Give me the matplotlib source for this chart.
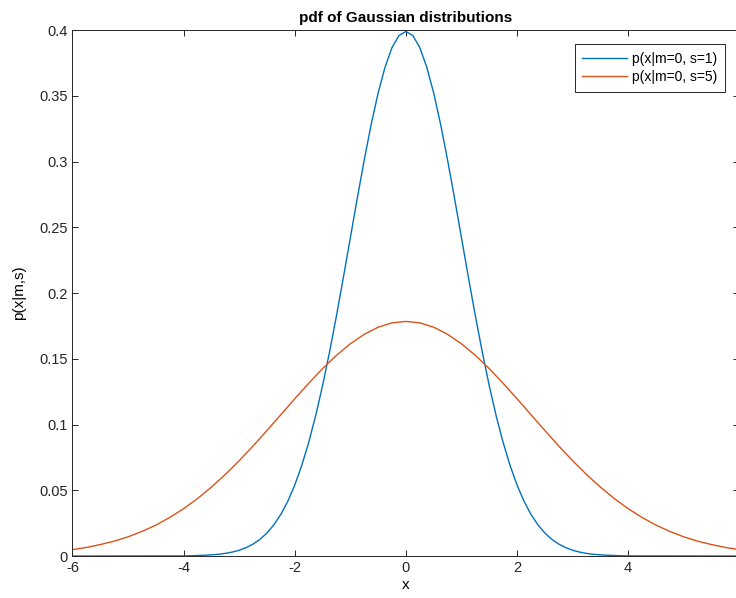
import matplotlib
matplotlib.use("Agg")
import matplotlib.pyplot as plt

# values (right half, the curves are symmetric about 0)
# s=1 curve: x step 0.125 from 0 to 4, then 0 out to 6
half_x1 = [i * 0.125 for i in range(0, 33)] + [6.0]
half_s1 = [0.3989, 0.3958, 0.3867, 0.3718, 0.3521, 0.3282, 0.3011, 0.2721,
           0.2420, 0.2119, 0.1826, 0.1550, 0.1295, 0.1065, 0.0863, 0.0688,
           0.0540, 0.0417, 0.0317, 0.0238, 0.0175, 0.0127, 0.0091, 0.0064,
           0.0044, 0.0030, 0.0020, 0.0013, 0.0009, 0.0006, 0.0004, 0.0002,
           0.0001, 0.0]
# s=5 curve: x step 0.25 from 0 to 6
half_x5 = [i * 0.25 for i in range(0, 25)]
half_s5 = [0.1784, 0.1773, 0.1740, 0.1686, 0.1614, 0.1526, 0.1425, 0.1313,
           0.1196, 0.1075, 0.0955, 0.0837, 0.0725, 0.0620, 0.0524, 0.0437,
           0.0360, 0.0293, 0.0235, 0.0187, 0.0146, 0.0113, 0.0087, 0.0065,
           0.0049]

x1 = [-v for v in half_x1[:0:-1]] + half_x1
pdf_s1 = half_s1[:0:-1] + half_s1
x5 = [-v for v in half_x5[:0:-1]] + half_x5
pdf_s5 = half_s5[:0:-1] + half_s5

labels = ["p(x|m=0, s=1)", "p(x|m=0, s=5)"]
x_ticks = [-6, -4, -2, 0, 2, 4, 6]
y_ticks = [0, 0.05, 0.1, 0.15, 0.2, 0.25, 0.3, 0.35, 0.4]

plt.rcParams["font.family"] = ["Liberation Sans", "DejaVu Sans"]

fig = plt.figure(figsize=(7.36, 5.98), dpi=100)
ax = fig.add_axes([0.0985, 0.0702, 0.906, 0.8796])

ax.plot(x1, pdf_s1, color="#0072BD", lw=1.0, label=labels[0])
ax.plot(x5, pdf_s5, color="#D95319", lw=1.0, label=labels[1])

ax.set_xlim(-6, 6)
ax.set_ylim(0, 0.4)
ax.set_xticks(x_ticks)
ax.set_xticklabels([str(t) for t in x_ticks])
ax.set_yticks(y_ticks)
ax.set_yticklabels([f"{t:g}" for t in y_ticks])
ax.tick_params(direction="in", top=True, right=True, labelsize=10.5,
               colors="#262626", length=4, width=0.7)
for sp in ax.spines.values():
    sp.set_color("#262626")
    sp.set_linewidth(0.7)

ax.set_title("pdf of Gaussian distributions", fontsize=11, fontweight="bold", pad=6)
ax.set_xlabel("x", fontsize=11, labelpad=2)
ax.set_ylabel("p(x|m,s)", fontsize=11, labelpad=9)

leg = ax.legend(loc="upper right", bbox_to_anchor=(0.979, 0.973), borderaxespad=0,
                fontsize=10, fancybox=False, framealpha=1, edgecolor="#262626",
                handlelength=3.2, handletextpad=0.4, borderpad=0.55,
                labelspacing=0.3)
leg.get_frame().set_linewidth(0.7)

fig.savefig("out.png", dpi=100)
